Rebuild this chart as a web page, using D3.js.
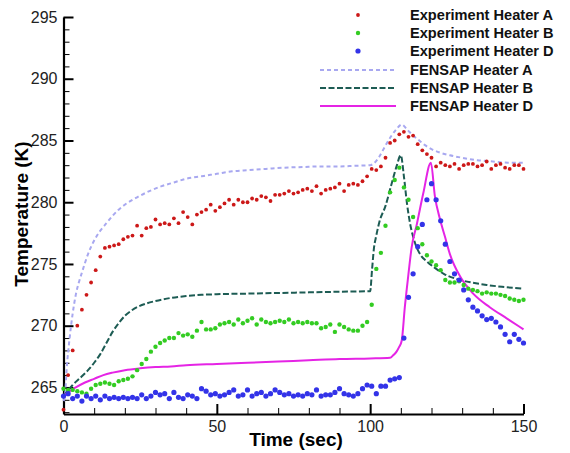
<!DOCTYPE html>
<html>
<head>
<meta charset="utf-8">
<script src="https://cdn.jsdelivr.net/npm/d3@7"></script>
<style>
  body { margin: 0; background: #fff; }
  svg { font-family: "Liberation Sans", Arial, sans-serif; }
  .axis path, .axis line { stroke: #000; }
  .axis text { font-size: 16px; fill: #222; }
  .legend text { font-size: 14.6px; font-weight: bold; fill: #111; }
</style>
</head>
<body>
<svg width="570" height="453"></svg>
<script>
// experiment samples (sec), shared by the three heaters
var expTime = [0, 1.5, 3, 4.5, 6, 7.5, 9, 10.5, 12, 13.5, 15, 16.5, 18, 19.5, 21, 22.5, 24, 25.5, 27, 28.5,
  30, 31.5, 33, 34.5, 36, 37.5, 39, 40.5, 42, 43.5, 45, 46.5, 48, 49.5, 51, 52.5, 54, 55.5, 57, 58.5,
  60, 61.5, 63, 64.5, 66, 67.5, 69, 70.5, 72, 73.5, 75, 76.5, 78, 79.5, 81, 82.5, 84, 85.5, 87, 88.5,
  90, 91.5, 93, 94.5, 96, 97.5, 99, 100.5, 102, 103.5, 105, 106.5, 108, 109.5, 111, 112.5, 114, 115.5, 117, 118.5,
  120, 121.5, 123, 124.5, 126, 127.5, 129, 130.5, 132, 133.5, 135, 136.5, 138, 139.5, 141, 142.5, 144, 145.5, 147, 148.5, 150];

var expA = [263.2, 266.0, 268.0, 270.0, 271.3, 272.5, 273.5, 274.5, 275.6, 276.3, 276.4, 276.5, 276.6, 277.0, 277.2, 277.3, 278.1, 277.3, 277.9, 278.0,
  278.6, 278.2, 278.3, 278.2, 278.7, 278.3, 279.2, 278.8, 278.2, 279.0, 279.2, 279.4, 279.8, 279.3, 279.6, 279.9, 280.2, 279.8, 280.2, 280.0,
  280.0, 280.3, 280.2, 280.5, 280.4, 280.1, 280.6, 280.6, 280.7, 280.9, 280.7, 280.8, 281.0, 281.1, 280.9, 281.3, 280.7, 281.0, 281.1, 281.2,
  281.5, 280.9, 281.4, 281.5, 281.4, 281.7, 282.1, 282.7, 282.6, 282.9, 283.6, 284.8, 285.0, 285.5, 285.7, 285.3, 285.4, 284.7, 284.2, 283.9,
  283.6, 282.9, 283.2, 283.0, 282.9, 283.1, 282.7, 283.0, 283.1, 283.1, 282.9, 283.0, 283.3, 282.7, 283.0, 283.1, 282.8, 282.7, 283.0, 283.0, 282.7];

var expB = [264.9, 264.8, 264.8, 264.7, 264.6, 264.5, 264.9, 265.2, 265.3, 265.4, 265.3, 265.2, 265.5, 265.6, 265.7, 265.9, 266.4, 266.9, 267.3, 267.9,
  268.3, 268.6, 268.8, 269.0, 269.0, 269.4, 269.2, 269.3, 269.1, 269.6, 270.3, 269.7, 269.7, 269.8, 270.1, 270.2, 270.3, 270.1, 270.5, 270.2,
  270.4, 270.6, 270.1, 270.5, 270.3, 270.2, 270.3, 270.4, 270.3, 270.5, 270.2, 270.3, 270.2, 270.3, 270.2, 270.2, 269.8, 269.9, 270.1, 269.5,
  270.1, 269.9, 269.7, 269.6, 269.6, 270.0, 270.3, 271.7, 274.6, 275.9, 278.1, 280.8, 281.8, 282.8, 281.2, 280.2, 278.8, 277.9, 276.6, 275.7,
  275.2, 274.9, 274.5, 273.7, 273.5, 273.5, 273.6, 273.3, 273.0, 272.9, 272.8, 272.6, 272.7, 272.6, 272.6, 272.5, 272.4, 272.2, 272.1, 272.0, 272.1];

var expD = [264.3, 264.5, 264.1, 264.3, 263.9, 264.3, 264.1, 264.3, 264.0, 264.3, 264.1, 264.2, 264.1, 264.2, 264.1, 264.2, 264.1, 264.4, 264.1, 264.3,
  264.6, 264.4, 264.5, 264.1, 264.6, 264.2, 264.1, 264.4, 264.3, 264.1, 264.9, 264.7, 264.4, 264.5, 264.3, 264.4, 264.6, 264.8, 264.3, 264.4,
  264.8, 264.3, 264.5, 264.6, 264.3, 264.5, 264.8, 264.6, 264.4, 264.5, 264.3, 264.4, 264.3, 264.5, 264.4, 264.8, 264.3, 264.4, 264.4, 264.6,
  264.9, 264.5, 264.4, 264.3, 264.5, 264.9, 265.2, 265.1, 264.5, 265.1, 265.1, 265.6, 265.7, 265.8, 269.0, 272.3, 274.2, 276.4, 278.2, 280.2,
  281.5, 280.2, 278.5, 276.6, 275.2, 274.2, 273.7, 272.9, 272.1, 271.5, 271.2, 270.8, 270.5, 270.6, 270.3, 269.9, 269.3, 268.7, 269.3, 268.9, 268.6];

// FENSAP simulation curves
var simATime = [0, 0.5, 1, 2, 3, 4, 5, 6, 8, 10, 12, 14, 16, 18, 20, 24, 28, 32, 36, 40, 45, 50, 55, 60, 66, 72, 78, 84, 90, 95,
  100, 101, 103, 105, 107, 108.5, 110.3, 112, 114, 116, 118, 120, 123, 126, 130, 135, 140, 145, 150];
var simA = [263.9, 264.4, 266.4, 269.0, 271.0, 272.5, 273.5, 274.3, 275.8, 276.9, 277.7, 278.3, 278.9, 279.4, 279.8, 280.4, 280.9, 281.3, 281.6, 281.9,
  282.1, 282.3, 282.5, 282.6, 282.7, 282.8, 282.85, 282.9, 282.9, 282.95,
  283.0, 283.1, 283.7, 284.6, 285.4, 285.9, 286.3, 285.9, 285.4, 285.0, 284.6, 284.3, 284.0, 283.8, 283.6, 283.4, 283.3, 283.2, 283.2];

var simBTime = [0, 3, 6, 8, 10, 12, 14, 16, 18, 20, 22, 24, 27, 30, 35, 40, 45, 50, 60, 70, 80, 90,
  100, 100.6, 101.2, 102, 103, 105, 107, 108.6, 110, 111, 112, 113, 114.5, 116.5, 118.5, 121, 124, 128, 133, 138, 143, 150];
var simB = [264.3, 265.2, 265.9, 266.4, 267.0, 267.7, 268.6, 269.5, 270.2, 270.8, 271.2, 271.5, 271.8, 272.0, 272.25, 272.4, 272.5, 272.55, 272.6, 272.65, 272.7, 272.75,
  272.8, 274.5, 276.2, 277.3, 278.4, 279.7, 281.5, 282.9, 283.8, 282.1, 279.9, 278.3, 276.8, 275.7, 275.2, 274.7, 274.2, 273.8, 273.5, 273.3, 273.15, 273.0];

var simDTime = [0, 2, 4, 7, 10, 13, 16, 20, 25, 30, 35, 40, 50, 60, 70, 80, 90, 100, 106.5, 107.5, 108.6, 109.5,
  110.3, 111.3, 112.4, 113.5, 115.2, 117.3, 119.8, 121.1, 122.8, 124.4, 126, 129.3, 133.6, 139, 144.5, 150];
var simD = [264.3, 264.7, 265.0, 265.4, 265.7, 266.0, 266.2, 266.4, 266.55, 266.65, 266.7, 266.8, 266.9, 267.0, 267.1, 267.2, 267.3, 267.35, 267.4, 267.6, 267.9, 268.3,
  268.8, 271.5, 274.0, 276.3, 278.2, 280.7, 283.2, 280.5, 278.6, 277.2, 275.8, 274.0, 272.6, 271.5, 270.6, 269.7];

var xMajor = [0, 50, 100, 150];
var xMinor = [10, 20, 30, 40, 60, 70, 80, 90, 110, 120, 130, 140];
var yMajor = [265, 270, 275, 280, 285, 290, 295];
var yMinor = [263, 264, 266, 267, 268, 269, 271, 272, 273, 274, 276, 277, 278, 279, 281, 282, 283, 284, 286, 287, 288, 289, 291, 292, 293, 294];

var svg = d3.select('svg');

var x = d3.scaleLinear().domain([0, 150]).range([63.5, 523.5]);
var y = d3.scaleLinear().domain([262.85, 295]).range([414, 17]);

// axes, ticks pointing inward
var yAxisG = svg.append('g').attr('class', 'axis')
    .attr('transform', 'translate(' + x(0) + ',0)');
yAxisG.call(d3.axisLeft(y).tickValues(yMajor).tickSize(-10).tickSizeOuter(0).tickPadding(6));
yAxisG.select('.domain').attr('stroke-width', 2.2);
yAxisG.selectAll('.tick line').attr('stroke-width', 2);

var yMinorG = svg.append('g').attr('class', 'axis')
    .attr('transform', 'translate(' + x(0) + ',0)');
yMinorG.call(d3.axisLeft(y).tickValues(yMinor).tickSize(-6).tickFormat(''));
yMinorG.select('.domain').remove();
yMinorG.selectAll('.tick line').attr('stroke', '#555').attr('stroke-width', 1);

var xAxisG = svg.append('g').attr('class', 'axis')
    .attr('transform', 'translate(0,' + y(262.85) + ')');
xAxisG.call(d3.axisBottom(x).tickValues(xMajor).tickSize(-10).tickSizeOuter(0).tickPadding(7));
xAxisG.select('.domain').attr('stroke-width', 2.2);
xAxisG.selectAll('.tick line').attr('stroke-width', 2);

var xMinorG = svg.append('g').attr('class', 'axis')
    .attr('transform', 'translate(0,' + y(262.85) + ')');
xMinorG.call(d3.axisBottom(x).tickValues(xMinor).tickSize(-6).tickFormat(''));
xMinorG.select('.domain').remove();
xMinorG.selectAll('.tick line').attr('stroke', '#555').attr('stroke-width', 1);

// axis titles
svg.append('text')
    .attr('x', 296).attr('y', 446)
    .attr('text-anchor', 'middle')
    .style('font-size', '19px').style('font-weight', 'bold')
    .text('Time (sec)');

svg.append('text')
    .attr('transform', 'translate(28,214) rotate(-90)')
    .attr('text-anchor', 'middle')
    .style('font-size', '19px').style('font-weight', 'bold')
    .text('Temperature (K)');

// simulation lines
var lineGen = d3.line()
    .x(d => x(d[0]))
    .y(d => y(d[1]))
    .curve(d3.curveMonotoneX);

var sims = [
    { name: 'FENSAP Heater A', t: simATime, v: simA, color: '#a8a8f0', dash: '4,3' },
    { name: 'FENSAP Heater B', t: simBTime, v: simB, color: '#1d5c54', dash: '6,2.5' },
    { name: 'FENSAP Heater D', t: simDTime, v: simD, color: '#e524e5', dash: null }
];

sims.forEach(function (s) {
    svg.append('path')
        .datum(s.t.map((t, i) => [t, s.v[i]]))
        .attr('d', lineGen)
        .attr('fill', 'none')
        .attr('stroke', s.color)
        .attr('stroke-width', 2)
        .attr('stroke-dasharray', s.dash);
});

// experiment points
var exps = [
    { name: 'Experiment Heater A', v: expA, color: '#cc1818', r: 1.9 },
    { name: 'Experiment Heater B', v: expB, color: '#33cc22', r: 2.2 },
    { name: 'Experiment Heater D', v: expD, color: '#3333e8', r: 2.6 }
];

exps.forEach(function (s) {
    svg.append('g').selectAll('circle')
        .data(expTime.map((t, i) => [t, s.v[i]]))
        .enter().append('circle')
        .attr('cx', d => x(d[0]))
        .attr('cy', d => y(d[1]))
        .attr('r', s.r)
        .attr('fill', s.color);
});

// legend
var legend = svg.append('g').attr('class', 'legend');
var rowY = [15, 33, 51, 70, 88, 106];

exps.forEach(function (s, i) {
    legend.append('circle')
        .attr('cx', 358).attr('cy', rowY[i])
        .attr('r', s.r).attr('fill', s.color);
    legend.append('text')
        .attr('x', 410).attr('y', rowY[i]).attr('dy', '0.36em')
        .text(s.name);
});

sims.forEach(function (s, i) {
    legend.append('line')
        .attr('x1', 320).attr('x2', 396)
        .attr('y1', rowY[i + 3]).attr('y2', rowY[i + 3])
        .attr('stroke', s.color).attr('stroke-width', 2)
        .attr('stroke-dasharray', s.dash);
    legend.append('text')
        .attr('x', 410).attr('y', rowY[i + 3]).attr('dy', '0.36em')
        .text(s.name);
});
</script>
</body>
</html>
